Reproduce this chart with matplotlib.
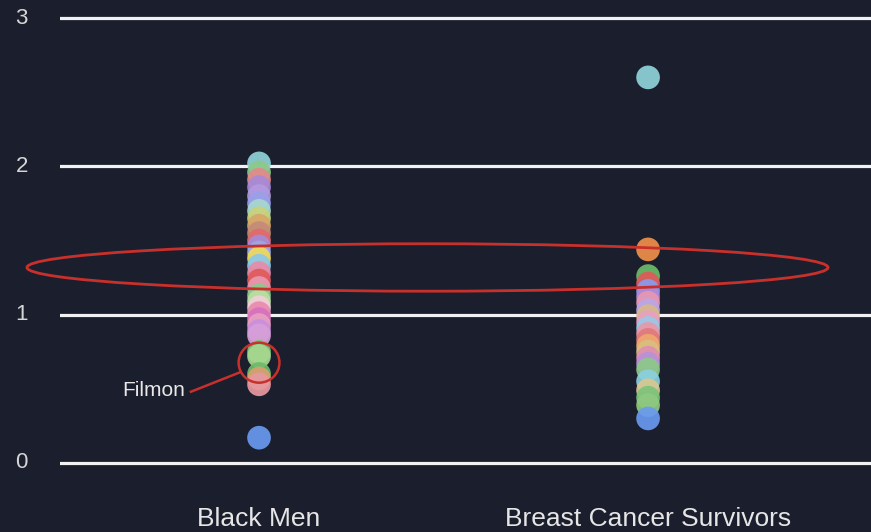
import matplotlib.pyplot as plt
from matplotlib.patches import Ellipse
import numpy as np

plt.rcParams['font.family'] = ['Liberation Sans', 'DejaVu Sans']

categories = ['Black Men', 'Breast Cancer Survivors']

# valeurs (de haut en bas)
black_men = [2.02, 1.96, 1.91, 1.86, 1.80, 1.75, 1.70, 1.65, 1.60, 1.55, 1.50,
             1.46, 1.42, 1.38, 1.33, 1.28, 1.23, 1.18, 1.13, 1.09, 1.05, 1.01,
             0.97, 0.93, 0.89, 0.86, 0.75, 0.72, 0.60, 0.57, 0.53, 0.17]
black_men_colors = ['#8fd3d8', '#8cc98a', '#e48a8a', '#a88ad8', '#b39ae0', '#9aa0e8',
                    '#a6d8d0', '#c7d27a', '#d8a66a', '#c48a7a', '#e06a6a',
                    '#a68ad8', '#9aa8e8', '#f0da5a', '#8cc8e8', '#e88aa8', '#e05a5a',
                    '#e898b0', '#8cc98a', '#b8e0a0', '#f0d0d8', '#e88ab0',
                    '#d870c0', '#e8a0c0', '#c890e0', '#d8a0d8', '#7cc47a', '#a8d890',
                    '#6cbc6a', '#d8a070', '#e898a0', '#6a9af0']

breast = [2.60, 1.44, 1.26, 1.21, 1.16, 1.12, 1.08, 1.03, 0.99, 0.95, 0.91, 0.87,
          0.83, 0.79, 0.75, 0.71, 0.67, 0.63, 0.55, 0.49, 0.44, 0.39, 0.30]
breast_colors = ['#8fd3d8', '#f0904a', '#6cbc6a', '#e05a5a', '#8a9af0', '#b08ad8',
                 '#e898b0', '#b8a8e8', '#d8b88a', '#e8a0c0', '#9ac8e8', '#e898a8',
                 '#e07a7a', '#f0a870', '#d8c080', '#e090b0', '#b890d8', '#8cc98a',
                 '#8ad0e0', '#d8c890', '#7cc47a', '#90c880', '#6a9af0']

yticks = [0, 1, 2, 3]

bg = '#1b1f2d'
fig = plt.figure(figsize=(8.71, 5.32), dpi=100, facecolor=bg)
ax = fig.add_axes([60 / 871, 0, 811 / 871, 1])
ax.set_facecolor(bg)

# lignes horizontales
for t in yticks:
    ax.axhline(t, color='#f2f2f2', lw=2.3, zorder=1)
    ax.text(-0.61, t, str(t), color='#d6d6d6', fontsize=16, ha='center', va='center',
            clip_on=False)

ax.scatter(np.zeros(len(black_men)), black_men, s=290, c=black_men_colors,
           alpha=0.92, edgecolors='none', zorder=3)
ax.scatter(np.ones(len(breast)), breast, s=290, c=breast_colors, alpha=0.92,
           edgecolors='none', zorder=3)

for i, cat in enumerate(categories):
    ax.text(i, -0.375, cat, color='#e6e6e6', fontsize=19, ha='center', va='center')

red = '#c8302c'
ax.add_patch(Ellipse((0.433, 1.318), 2.059, 0.32, fill=False, ec=red, lw=2,
                     zorder=4, clip_on=False))
ax.add_patch(Ellipse((0, 0.676), 0.105, 0.27, fill=False, ec=red, lw=1.8, zorder=4))
ax.plot([-0.175, -0.05], [0.48, 0.61], color=red, lw=1.8, zorder=4)
ax.text(-0.19, 0.485, 'Filmon', color='#e8e8e8', fontsize=15, ha='right', va='center')

ax.set_xlim(-0.5116, 1.573)
ax.set_ylim(-0.466, 3.122)
ax.axis('off')

fig.savefig('out.png', dpi=100, facecolor=bg)
